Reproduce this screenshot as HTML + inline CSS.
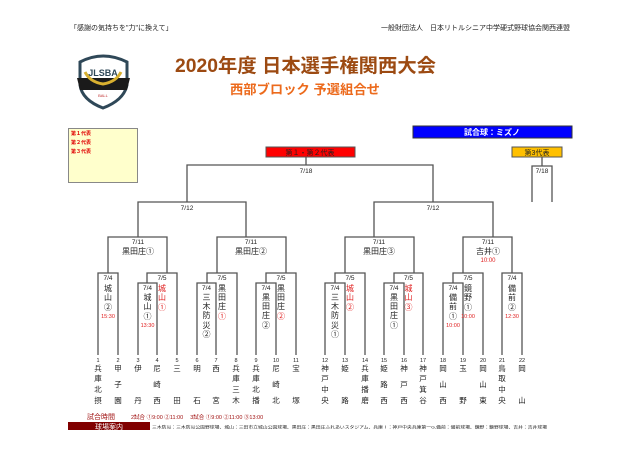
<!DOCTYPE html>
<html><head><meta charset="utf-8"><style>
body{margin:0;background:#fff;}
svg{display:block;font-family:"Liberation Sans","Noto Sans CJK JP",sans-serif;}
</style></head><body>
<svg width="640" height="459" viewBox="0 0 640 459" xmlns="http://www.w3.org/2000/svg">
<text x="70" y="30" font-size="7" fill="#222">「感謝の気持ちを"力"に換えて」</text>
<text x="570" y="30" font-size="7" fill="#222" text-anchor="end">一般財団法人　日本リトルシニア中学硬式野球協会関西連盟</text>
<!-- logo -->
<path d="M80 62 Q103 50 127 62 L127 85 Q124 100 103 108 Q82 100 80 85 Z" fill="#fff" stroke="#2f4858" stroke-width="3"/>
<text x="103" y="76" font-size="9" text-anchor="middle" fill="#2f4858" font-weight="bold">JLSBA</text>
<path d="M77 78 L130 78 L127 90 L80 90 Z" fill="#1a1a1a"/>
<path d="M85 72 Q90 82 103 84 Q116 82 121 72" fill="none" stroke="#d8b030" stroke-width="3"/>
<text x="103" y="97" font-size="4" text-anchor="middle" fill="#c03030">BALL</text>
<!-- title -->
<text x="175" y="72" font-size="19" font-weight="bold" fill="#9c4a12" textLength="261" lengthAdjust="spacingAndGlyphs">2020年度 日本選手権関西大会</text>
<text x="230" y="94" font-size="13" font-weight="bold" fill="#ec6a1c" textLength="150" lengthAdjust="spacingAndGlyphs">西部ブロック 予選組合せ</text>
<!-- legend -->
<rect x="68.5" y="128.5" width="69" height="54" fill="#ffffcc" stroke="#888"/>
<text x="71" y="135" font-size="5" fill="#e00000" font-weight="bold">第１代表</text>
<text x="71" y="144" font-size="5" fill="#e00000" font-weight="bold">第２代表</text>
<text x="71" y="153" font-size="5" fill="#e00000" font-weight="bold">第３代表</text>
<rect x="413" y="126" width="159" height="12" fill="#0000ff" stroke="#333"/>
<text x="492" y="135" font-size="8" fill="#fff" text-anchor="middle" font-weight="bold">試合球：ミズノ</text>
<rect x="266" y="147" width="89" height="10" fill="#ff0000" stroke="#555"/>
<text x="310" y="155" font-size="7" text-anchor="middle" fill="#222">第１・第２代表</text>
<rect x="512" y="147" width="50" height="10" fill="#ffc000" stroke="#555"/>
<text x="537" y="155" font-size="7" text-anchor="middle" fill="#222">第3代表</text>
<g fill="none" stroke="#555" stroke-width="1.3">
<path d="M306 157V165M187 202V165H433V202M542 157V166M532 202V166H552V202"/>
<path d="M138 237V202H246V237M374 237V202H493V237"/>
<path d="M98 355V273H118V355M108 273V237H167V273M147 283V273H177V355M138 355V283H157V355"/>
<path d="M217 273V237H286V273M207 283V273H237V355M197 355V283H216V355M266 283V273H296V355M256 355V283H276V355"/>
<path d="M345 273V237H414V273M335 283V273H365V355M325 355V283H345V355M394 283V273H423V355M384 355V283H404V355"/>
<path d="M463 273V237H512V273M453 283V273H483V355M443 355V283H463V355M502 355V273H522V355"/>
</g>
<g font-size="6.5" fill="#222" text-anchor="middle">
<text x="306" y="173">7/18</text><text x="542" y="173">7/18</text>
<text x="187" y="210">7/12</text><text x="433" y="210">7/12</text>
<text x="138" y="244">7/11</text><text x="251" y="244">7/11</text><text x="379" y="244">7/11</text><text x="488" y="244">7/11</text>
</g>
<g font-size="8" fill="#222" text-anchor="middle">
<text x="138" y="254">黒田庄①</text><text x="251" y="254">黒田庄②</text><text x="379" y="254">黒田庄③</text><text x="488" y="254">吉井①</text>
</g>
<text x="488" y="262" font-size="6" fill="#e02020" text-anchor="middle">10:00</text>
<!-- match labels -->
<g font-size="6.5" fill="#222" text-anchor="middle">
<text x="108" y="280">7/4</text><text x="162" y="280">7/5</text><text x="147.5" y="290">7/4</text>
<text x="222" y="280">7/5</text><text x="206.5" y="290">7/4</text><text x="281" y="280">7/5</text><text x="266" y="290">7/4</text>
<text x="350" y="280">7/5</text><text x="335" y="290">7/4</text><text x="408.5" y="280">7/5</text><text x="394" y="290">7/4</text>
<text x="468" y="280">7/5</text><text x="453" y="290">7/4</text><text x="512" y="280">7/4</text>
</g>
<g font-size="8" text-anchor="middle">
<g fill="#222"><text x="108" y="291">城</text><text x="108" y="300">山</text><text x="108" y="310">②</text></g>
<text x="108" y="318" font-size="5.5" fill="#e02020">15:30</text>
<g fill="#e02020"><text x="162" y="291">城</text><text x="162" y="300">山</text><text x="162" y="310">①</text></g>
<g fill="#222"><text x="147.5" y="300">城</text><text x="147.5" y="309">山</text><text x="147.5" y="319">①</text></g>
<text x="147.5" y="327" font-size="5.5" fill="#e02020">13:30</text>
<g fill="#222"><text x="222" y="291">黒</text><text x="222" y="300">田</text><text x="222" y="309">庄</text></g><text x="222" y="319" fill="#e02020">①</text>
<g fill="#222"><text x="206.5" y="300">三</text><text x="206.5" y="309">木</text><text x="206.5" y="318">防</text><text x="206.5" y="328">災</text><text x="206.5" y="337">②</text></g>
<g fill="#222"><text x="281" y="291">黒</text><text x="281" y="300">田</text><text x="281" y="309">庄</text></g><text x="281" y="319" fill="#e02020">②</text>
<g fill="#222"><text x="266" y="300">黒</text><text x="266" y="309">田</text><text x="266" y="318">庄</text><text x="266" y="328">②</text></g>
<g fill="#e02020"><text x="350" y="291">城</text><text x="350" y="300">山</text><text x="350" y="310">②</text></g>
<g fill="#222"><text x="335" y="300">三</text><text x="335" y="309">木</text><text x="335" y="318">防</text><text x="335" y="328">災</text><text x="335" y="337">①</text></g>
<g fill="#e02020"><text x="408.5" y="291">城</text><text x="408.5" y="300">山</text><text x="408.5" y="310">③</text></g>
<g fill="#222"><text x="394" y="300">黒</text><text x="394" y="309">田</text><text x="394" y="318">庄</text><text x="394" y="328">①</text></g>
<g fill="#222"><text x="468" y="291">鏡</text><text x="468" y="300">野</text><text x="468" y="310">①</text></g>
<text x="468" y="318" font-size="5.5" fill="#e02020">10:00</text>
<g fill="#222"><text x="453" y="300">備</text><text x="453" y="309">前</text><text x="453" y="319">①</text></g>
<text x="453" y="327" font-size="5.5" fill="#e02020">10:00</text>
<g fill="#222"><text x="512" y="291">備</text><text x="512" y="300">前</text><text x="512" y="310">②</text></g>
<text x="512" y="318" font-size="5.5" fill="#e02020">12:30</text>
</g>
<!-- teams -->
<g font-size="5.5" fill="#222" text-anchor="middle">
<text x="98" y="362">1</text><text x="118" y="362">2</text><text x="138" y="362">3</text><text x="157" y="362">4</text><text x="177" y="362">5</text><text x="197" y="362">6</text><text x="216" y="362">7</text><text x="236" y="362">8</text><text x="256" y="362">9</text><text x="276" y="362">10</text><text x="296" y="362">11</text>
<text x="325" y="362">12</text><text x="345" y="362">13</text><text x="365" y="362">14</text><text x="384" y="362">15</text><text x="404" y="362">16</text><text x="423" y="362">17</text><text x="443" y="362">18</text><text x="463" y="362">19</text><text x="483" y="362">20</text><text x="502" y="362">21</text><text x="522" y="362">22</text>
</g>
<g font-size="7.5" fill="#222" text-anchor="middle">
<text x="98" y="371">兵</text><text x="98" y="381">庫</text><text x="98" y="392">北</text><text x="98" y="403">摂</text>
<text x="118" y="371">甲</text><text x="118" y="387">子</text><text x="118" y="403">園</text>
<text x="138" y="371">伊</text><text x="138" y="403">丹</text>
<text x="157" y="371">尼</text><text x="157" y="387">崎</text><text x="157" y="403">西</text>
<text x="177" y="371">三</text><text x="177" y="403">田</text>
<text x="197" y="371">明</text><text x="197" y="403">石</text>
<text x="216" y="371">西</text><text x="216" y="403">宮</text>
<text x="236" y="371">兵</text><text x="236" y="381">庫</text><text x="236" y="392">三</text><text x="236" y="403">木</text>
<text x="256" y="371">兵</text><text x="256" y="381">庫</text><text x="256" y="392">北</text><text x="256" y="403">播</text>
<text x="276" y="371">尼</text><text x="276" y="387">崎</text><text x="276" y="403">北</text>
<text x="296" y="371">宝</text><text x="296" y="403">塚</text>
<text x="325" y="371">神</text><text x="325" y="381">戸</text><text x="325" y="392">中</text><text x="325" y="403">央</text>
<text x="345" y="371">姫</text><text x="345" y="403">路</text>
<text x="365" y="371">兵</text><text x="365" y="381">庫</text><text x="365" y="392">播</text><text x="365" y="403">磨</text>
<text x="384" y="371">姫</text><text x="384" y="387">路</text><text x="384" y="403">西</text>
<text x="404" y="371">神</text><text x="404" y="387">戸</text><text x="404" y="403">西</text>
<text x="423" y="371">神</text><text x="423" y="381">戸</text><text x="423" y="392">箕</text><text x="423" y="403">谷</text>
<text x="443" y="371">岡</text><text x="443" y="387">山</text><text x="443" y="403">西</text>
<text x="463" y="371">玉</text><text x="463" y="403">野</text>
<text x="483" y="371">岡</text><text x="483" y="387">山</text><text x="483" y="403">東</text>
<text x="502" y="371">鳥</text><text x="502" y="381">取</text><text x="502" y="392">中</text><text x="502" y="403">央</text>
<text x="522" y="371">岡</text><text x="522" y="403">山</text>
</g>
<!-- bottom -->
<text x="87" y="419" font-size="7" fill="#a01010">試合時間</text>
<text x="131" y="419" font-size="5.5" fill="#a01010">2試合 ①9:00 ②11:00　 3試合 ①9:00 ②11:00 ③13:00</text>
<rect x="68" y="422" width="82" height="8" fill="#800000"/>
<text x="109" y="429" font-size="7" fill="#fff" text-anchor="middle">球場案内</text>
<text x="152" y="428.5" font-size="4" fill="#222" textLength="395" lengthAdjust="spacingAndGlyphs">三木防災：三木防災公園野球場、城山：三田市立城山公園球場、黒田庄：黒田庄ふれあいスタジアム、兵庫Ⅰ：神戸中央兵庫第一G,備前：備前球場、鏡野：鏡野球場、吉井：吉井球場</text>
</svg>
</body></html>
